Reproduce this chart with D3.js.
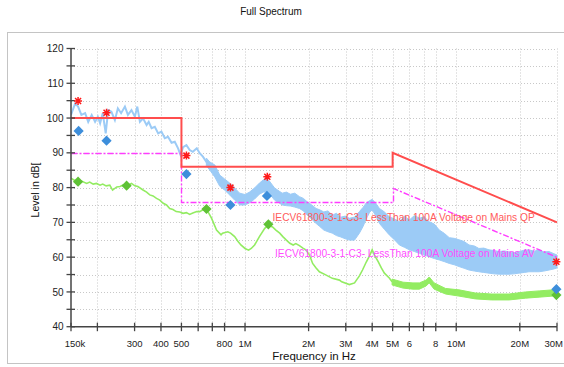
<!DOCTYPE html>
<html><head><meta charset="utf-8">
<script src="https://cdn.jsdelivr.net/npm/d3@7"></script>
<style>body{margin:0;background:#fff} svg{display:block;font-family:"Liberation Sans",Arial,sans-serif}</style>
</head><body><svg id="c" width="564" height="367"></svg>
<script>
// ---------- data ----------
const titleText = "Full Spectrum";
const xTitle = "Frequency in Hz";
const yTitle = "Level in dB[";
const xTickFreq = [150e3,200e3,300e3,400e3,500e3,600e3,700e3,800e3,1e6,2e6,3e6,4e6,5e6,6e6,7e6,8e6,10e6,20e6,30e6];
const xTickText = ["150k","","300","400","500","","","800","1M","2M","3M","4M","5M","6","","8","10M","20M","30M"];
const yTicks = [40,45,50,55,60,65,70,75,80,85,90,95,100,105,110,115,120];
const yTickText = ["40","","50","","60","","70","","80","","90","","100","","110","","120"];

// limit lines
const limitFreq = [150e3,500e3,500e3,5e6,5e6,30e6];
const limitQP = [100,100,86,86,90,70];
const limitAV = [90,90,76,76,80,60];
const limitQPLabel = "IECV61800-3-1-C3- LessThan 100A Voltage on Mains QP";
const limitAVLabel = "IECV61800-3-1-C3- LessThan 100A Voltage on Mains AV";

// peak trace (low frequency part, line)
const peakLineKHz = [150,157,162,168,175,181,188,195,201,206,212,219,225,233,242,250,259,270,279,290,301,309,318,329,342,350,361,374,388,402,417,432,449,465,482,495,509,528,547,566,591,610,632,656,680];
const peakLineDb = [100.9,104.2,103.3,100.9,101.4,98.9,100.9,98.9,100.4,98.5,101.4,95.6,102.3,101.8,99.4,102.8,101.4,103.3,100.9,102.3,100.4,103.3,98.9,99.9,98.0,98.9,97.1,97.5,95.6,96.1,94.2,94.6,92.9,93.2,91.3,89.4,91.6,92.2,90.8,90.3,91.3,89.9,88.9,87.4,86.5];

// peak trace (noise band, upper/lower envelope)
const peakBandKHz = [656,680,720,759,800,846,893,943,1000,1050,1110,1170,1220,1260,1300,1380,1450,1500,1570,1640,1720,1810,1890,1970,2070,2170,2260,2360,2470,2590,2710,2840,2980,3120,3300,3480,3620,3750,3880,4000,4150,4330,4570,4820,5100,5380,5700,6000,6350,6690,7050,7450,7880,8310,8800,9270,9800,10300,10900,11500,12200,12800,13500,14300,15100,16000,16900,17800,18800,19800,21000,22100,23400,24700,26000,27500,29000,30000];
const peakBandHi = [88.5,87.4,86.5,83.6,82.5,81.3,79.9,78.4,78.0,78.7,79.9,81.3,82.2,82.8,82.0,79.9,79.0,78.4,78.7,78.1,78.4,77.4,76.9,75.9,75.0,74.0,73.6,73.0,73.3,72.1,72.6,71.5,71.8,71.2,71.5,73.1,74.3,75.6,76.2,76.6,75.6,74.0,73.0,71.6,71.0,70.2,71.8,70.7,72.0,71.2,71.6,70.2,69.5,67.8,66.8,65.6,65.4,65.0,64.5,63.5,63.2,62.5,62.6,62.1,61.9,61.6,61.8,61.5,61.3,61.6,62.0,62.1,61.7,62.1,61.5,61.6,61.0,60.6];
const peakBandLo = [86.3,85.1,83.0,80.4,79.3,77.9,76.4,75.0,75.0,75.6,76.7,78.1,78.7,78.7,78.4,76.4,75.6,75.0,74.8,74.7,74.4,74.0,73.3,72.1,70.9,69.7,68.8,67.8,67.3,66.9,66.2,65.8,65.3,64.9,64.9,66.9,68.8,71.0,72.8,73.6,72.0,69.7,68.0,66.4,65.0,63.5,62.8,62.1,61.6,61.1,60.6,60.1,59.6,59.2,58.7,58.2,57.8,57.3,56.8,56.3,56.0,55.8,55.6,55.4,55.2,55.1,55.1,55.1,55.2,55.4,55.6,55.8,55.8,55.8,56.0,56.3,56.6,56.9];

// average trace (line)
const avgLineKHz = [150,155,162,168,178,184,191,198,206,212,220,229,236,247,256,264,275,290,301,311,329,342,354,367,381,395,410,425,440,456,472,491,509,528,547,566,591,610,632,657,694,733,770,783,829,854,893,925,956,1000,1040,1070,1110,1170,1240,1290,1350,1400,1460,1510,1570,1630,1690,1740,1810,1880,1940,2020,2090,2170,2250,2410,2590,2800,2870,3120,3300,3480,3600,3750,3880,4000,4100,4270,4420,4570,4820,4970];
const avgLineDb = [82.7,82.2,81.7,81.9,81.2,81.6,81.0,81.2,80.7,81.0,80.5,80.7,79.3,80.2,80.3,80.7,80.5,81.2,80.5,80.3,79.3,78.7,77.9,77.6,76.9,76.4,75.5,75.0,74.0,73.7,73.1,73.0,72.6,72.8,72.3,72.7,73.1,73.1,73.6,73.8,71.2,67.8,66.4,66.9,67.3,66.9,65.9,64.6,63.5,62.5,62.0,62.5,63.5,65.9,68.3,69.2,68.7,67.8,66.9,65.9,64.9,64.0,63.5,63.9,63.3,62.6,62.1,60.6,58.2,56.9,55.8,54.9,53.9,53.4,52.9,52.1,52.6,54.6,56.3,58.6,60.3,62.1,60.6,58.7,56.9,55.4,54.0,52.9];

// average trace (noise band above 5 MHz)
const avgBandKHz = [4970,5600,6240,6690,7200,7450,7860,8900,10300,12300,14700,17800,21300,24700,28700,30000];
const avgBandHi = [53.7,52.8,52.6,52.6,53.4,54.3,52.6,51.0,50.6,49.7,49.4,49.4,50.0,50.3,50.6,50.6];
const avgBandLo = [52.0,51.1,50.8,50.8,51.7,52.6,50.8,49.4,48.8,48.0,47.7,47.7,48.2,48.5,48.8,48.8];

// final measurement markers
const peakMarkKHz = [162,221,528,853,1275,29800];
const peakMarkDb = [104.9,101.5,89.2,80.0,83.1,58.7];
const qpMarkKHz = [163,221,528,853,1270,29800];
const qpMarkDb = [96.3,93.5,83.9,75.0,77.6,50.8];
const avMarkKHz = [162,275,657,1290,29800];
const avMarkDb = [81.7,80.55,73.85,69.45,49.1];

// ---------- drawing ----------
const svg = d3.select("#c");
const L = 71, R = 557, T = 48.5, B = 326.7;
const x = d3.scaleLog().domain([150e3, 30e6]).range([L, R]);
const y = d3.scaleLinear().domain([40, 120]).range([B, T]);
const snap = v => Math.round(v) + 0.5;

// outer frame
svg.append("rect").attr("x", 7.5).attr("y", 32.5).attr("width", 570).attr("height", 331)
  .attr("fill", "none").attr("stroke", "#c4c4c4").attr("stroke-width", 1);

// title
svg.append("text").attr("x", 271).attr("y", 15).attr("text-anchor", "middle")
  .attr("font-size", 10).attr("fill", "#111").text(titleText);

// grid
const grid = svg.append("g").attr("stroke", "#c8c8c8").attr("stroke-width", 1).attr("stroke-dasharray", "1,2");
yTicks.filter(v => v > 40).forEach(v => {
  grid.append("line").attr("x1", L).attr("x2", R).attr("y1", snap(y(v))).attr("y2", snap(y(v)));
});
xTickFreq.filter(f => f > 150e3).forEach(f => {
  grid.append("line").attr("x1", snap(x(f))).attr("x2", snap(x(f))).attr("y1", T).attr("y2", B);
});

svg.append("clipPath").attr("id", "plotClip").append("rect")
  .attr("x", L).attr("y", T - 6).attr("width", R - L + 6).attr("height", B - T + 6);
const plot = svg.append("g").attr("clip-path", "url(#plotClip)");

// peak trace
const peakBand = peakBandKHz.map((k, i) => ({f: k * 1e3, hi: peakBandHi[i], lo: peakBandLo[i]}));
plot.append("path").datum(peakBand)
  .attr("d", d3.area().x(d => x(d.f)).y0(d => y(d.lo)).y1(d => y(d.hi)))
  .attr("fill", "#9ccbf6").attr("stroke", "#9ccbf6").attr("stroke-width", 1);
const peakLine = peakLineKHz.map((k, i) => ({f: k * 1e3, v: peakLineDb[i]}));
plot.append("path").datum(peakLine)
  .attr("d", d3.line().x(d => x(d.f)).y(d => y(d.v)))
  .attr("fill", "none").attr("stroke", "#9ccbf6").attr("stroke-width", 2);

// average trace
const avgLine = avgLineKHz.map((k, i) => ({f: k * 1e3, v: avgLineDb[i]}));
plot.append("path").datum(avgLine)
  .attr("d", d3.line().x(d => x(d.f)).y(d => y(d.v)))
  .attr("fill", "none").attr("stroke", "#93ec62").attr("stroke-width", 1.6);
const avgBand = avgBandKHz.map((k, i) => ({f: k * 1e3, hi: avgBandHi[i], lo: avgBandLo[i]}));
plot.append("path").datum(avgBand)
  .attr("d", d3.area().x(d => x(d.f)).y0(d => y(d.lo)).y1(d => y(d.hi)))
  .attr("fill", "#93ec62").attr("stroke", "#93ec62").attr("stroke-width", 1);

// limit lines
const lim = limitFreq.map((f, i) => ({f, qp: limitQP[i], av: limitAV[i]}));
plot.append("path").datum(lim)
  .attr("d", d3.line().x(d => snap(x(d.f))).y(d => snap(y(d.av))))
  .attr("fill", "none").attr("stroke", "#ff3cff").attr("stroke-width", 1.4).attr("stroke-dasharray", "6,2,2,2");
plot.append("path").datum(lim)
  .attr("d", d3.line().x(d => x(d.f)).y(d => y(d.qp)))
  .attr("fill", "none").attr("stroke", "#ff4d4d").attr("stroke-width", 2);

svg.append("text").attr("x", 272.5).attr("y", 221).attr("font-size", 10.2).attr("fill", "#ff5a5a").text(limitQPLabel);
svg.append("text").attr("x", 275).attr("y", 256.5).attr("font-size", 10.2).attr("fill", "#ff4cff").text(limitAVLabel);

// axes
const ax = svg.append("g").attr("stroke", "#444");
ax.append("line").attr("x1", L).attr("x2", L).attr("y1", T).attr("y2", B).attr("stroke-width", 1.5);
ax.append("line").attr("x1", L).attr("x2", R).attr("y1", B).attr("y2", B).attr("stroke-width", 1.5);
yTicks.forEach((v, i) => {
  ax.append("line").attr("x1", L - 4.5).attr("x2", L + 4).attr("y1", y(v)).attr("y2", y(v)).attr("stroke-width", 1.3);
  if (yTickText[i]) svg.append("text").attr("x", 63.5).attr("y", y(v) + 3.6).attr("text-anchor", "end")
    .attr("font-size", 10).attr("fill", "#222").text(yTickText[i]);
});
const lastTick = xTickFreq.length - 1;
xTickFreq.forEach((f, i) => {
  ax.append("line").attr("x1", x(f)).attr("x2", x(f)).attr("y1", B - 4).attr("y2", B + 4.5).attr("stroke-width", 1.3);
  if (xTickText[i]) svg.append("text")
    .attr("x", i === lastTick ? 563 : x(f) + (i === 0 ? 4 : 0))
    .attr("y", 346.5).attr("text-anchor", i === lastTick ? "end" : "middle")
    .attr("font-size", 9.5).attr("fill", "#222").text(xTickText[i]);
});
svg.append("text").attr("x", 314).attr("y", 360).attr("text-anchor", "middle")
  .attr("font-size", 11.5).attr("fill", "#111").text(xTitle);
svg.append("text").attr("transform", "translate(39,190) rotate(-90)").attr("text-anchor", "middle")
  .attr("font-size", 10.5).attr("fill", "#111").text(yTitle);

// markers
const star = "M-4,0L4,0M0,-4L0,4M-3,-3L3,3M-3,3L3,-3";
const diamond = d3.symbol().type(d3.symbolSquare).size(52);
avMarkKHz.forEach((k, i) => {
  svg.append("path").attr("d", diamond()).attr("fill", "#5fc236")
    .attr("transform", `translate(${x(k * 1e3)},${y(avMarkDb[i])}) rotate(45)`);
});
qpMarkKHz.forEach((k, i) => {
  svg.append("path").attr("d", diamond()).attr("fill", "#3d8edb")
    .attr("transform", `translate(${x(k * 1e3)},${y(qpMarkDb[i])}) rotate(45)`);
});
peakMarkKHz.forEach((k, i) => {
  svg.append("path").attr("d", star).attr("fill", "none").attr("stroke", "#ff1a1a").attr("stroke-width", 1.5)
    .attr("transform", `translate(${x(k * 1e3)},${y(peakMarkDb[i])})`);
});
</script></body></html>
